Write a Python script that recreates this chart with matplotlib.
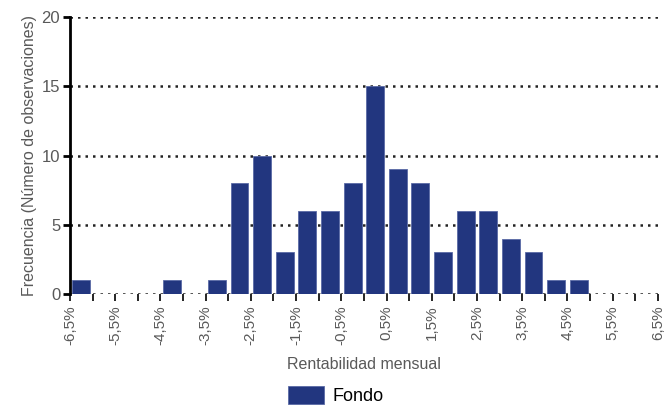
import numpy as np
import matplotlib.pyplot as plt

plt.rcParams['font.family'] = ['Liberation Sans', 'DejaVu Sans']

# Datos: bordes de los intervalos (%) y frecuencias
bordes = np.arange(-6.5, 6.5 + 0.25, 0.5)
frecuencias = [1, 0, 0, 0, 1, 0, 1, 8, 10, 3, 6, 6, 8, 15, 9, 8, 3, 6, 6, 4, 3, 1, 1, 0, 0, 0]
etiquetas = np.arange(-6.5, 6.5 + 0.5, 1.0)

gris = '#595959'
azul = '#22367f'

fig = plt.figure(figsize=(6.72, 4.07), dpi=100)
ax = fig.add_axes([0.104, 0.2776, 0.875, 0.6806])

centros = (bordes[:-1] + bordes[1:]) / 2
ax.bar(centros, frecuencias, width=0.5 * 0.79, color=azul,
       edgecolor='#5a6aa5', linewidth=0.6, label='Fondo', zorder=3)

ax.set_xlim(-6.5, 6.5)
ax.set_ylim(0, 20)
ax.set_yticks([0, 5, 10, 15, 20])
for v in [0, 5, 10, 15, 20]:
    ax.axhline(v, color='#222222', linestyle=(0, (1, 2)), linewidth=1.8, zorder=2)

ax.set_xticks(bordes, minor=True)
ax.set_xticks(etiquetas)
ax.set_xticklabels([f"{e:.1f}%".replace('.', ',') for e in etiquetas],
                   rotation=90, color=gris, fontsize=11)
ax.tick_params(axis='y', colors='black', labelcolor=gris, labelsize=12,
               length=5, width=2, pad=2)
ax.tick_params(axis='x', which='both', length=5, width=1.2, color='black', pad=3)

for s in ['top', 'right', 'bottom']:
    ax.spines[s].set_visible(False)
ax.spines['left'].set_linewidth(2)
ax.spines['left'].set_zorder(4)

ax.set_xlabel("Rentabilidad mensual", color=gris, fontsize=11.5, labelpad=9)
ax.set_ylabel("Frecuencia (Número de observaciones)", color=gris, fontsize=11.5, labelpad=3)

fig.legend(loc='lower center', bbox_to_anchor=(0.5, -0.035), frameon=False,
           fontsize=13, handlelength=2.0, handleheight=1.1, handletextpad=0.45)

fig.savefig('out.png', dpi=100)
